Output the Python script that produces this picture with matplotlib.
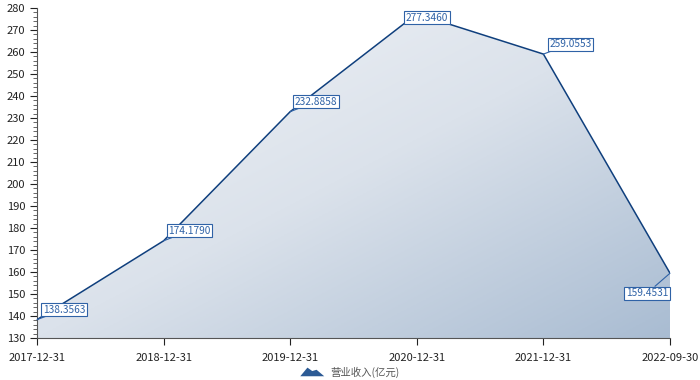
import matplotlib.pyplot as plt
import numpy as np
from matplotlib.colors import LinearSegmentedColormap
from matplotlib.legend_handler import HandlerBase
from matplotlib.patches import Polygon
from matplotlib.ticker import MultipleLocator

plt.rcParams["font.family"] = ["Noto Sans CJK SC", "DejaVu Sans"]

dates = ["2017-12-31", "2018-12-31", "2019-12-31", "2020-12-31", "2021-12-31", "2022-09-30"]
revenue = [138.3563, 174.1790, 232.8858, 277.3460, 259.0553, 159.4531]  # 亿元
series_name = "营业收入(亿元)"

# label box offsets in pixels (placement of the value boxes)
label_offsets = [(27, 10), (26, 10), (26, 10), (10, -4), (27, 10), (-23, -20)]

LINE = "#0f3f7d"
LABEL = "#2f62a6"
TEXT = "#222222"

fig = plt.figure(figsize=(7, 3.8), dpi=100)
ax = fig.add_axes([37 / 700, 42 / 380, 633 / 700, 330 / 380])

x = np.arange(len(dates))
ymin, ymax = 130, 280

# gradient area under the line
fill = ax.fill_between(x, revenue, ymin, color="none", lw=0)
gx, gy = np.meshgrid(np.linspace(0, 1, 200), np.linspace(0, 1, 200))
grad = (gx + gy) / 2
cmap = LinearSegmentedColormap.from_list("area", ["#f3f5f8", "#dbe2eb", "#a9bcd2"])
img = ax.imshow(grad, extent=[0, x[-1], ymin, ymax], origin="upper",
                cmap=cmap, aspect="auto", zorder=1)
img.set_clip_path(fill.get_paths()[0], transform=ax.transData)

ax.plot(x, revenue, color=LINE, lw=1.1, zorder=3)

for xi, v, off in zip(x, revenue, label_offsets):
    ax.annotate(f"{v:.4f}", xy=(xi, v), xytext=off, textcoords="offset pixels",
                ha="center", va="center", fontsize=7.3, color=LABEL, zorder=5,
                bbox=dict(boxstyle="square,pad=0.15", fc="white", ec=LABEL, lw=0.8),
                arrowprops=dict(arrowstyle="-", color=LABEL, lw=0.8,
                                shrinkA=0, shrinkB=0),
                annotation_clip=False)

ax.set_xlim(0, x[-1])
ax.set_ylim(ymin, ymax)
ax.set_xticks(x)
ax.set_xticklabels(dates)
ax.yaxis.set_major_locator(MultipleLocator(10))
ax.yaxis.set_minor_locator(MultipleLocator(2))
ax.tick_params(axis="both", labelsize=8, colors=TEXT, length=5, width=0.8)
ax.tick_params(axis="y", which="minor", length=3, width=0.7, color="#666666")
ax.tick_params(axis="x", pad=6)
for s in ["top", "right"]:
    ax.spines[s].set_visible(False)
for s in ["left", "bottom"]:
    ax.spines[s].set_color("#555555")
    ax.spines[s].set_linewidth(0.8)


class MountainHandler(HandlerBase):
    def create_artists(self, legend, orig_handle, xdescent, ydescent,
                       width, height, fontsize, trans):
        w, h = width, height
        pts = [(-xdescent, -ydescent), (-xdescent + 0.3 * w, -ydescent + h),
               (-xdescent + 0.5 * w, -ydescent + 0.6 * h),
               (-xdescent + 0.68 * w, -ydescent + 0.75 * h),
               (-xdescent + w, -ydescent)]
        p = Polygon(pts, closed=True, fc="#2c5a94", ec="none", transform=trans)
        return [p]


handle = Polygon([[0, 0]], fc=LINE)
fig.legend([handle], [series_name], handler_map={Polygon: MountainHandler()},
           loc="center", bbox_to_anchor=(0.5, 8 / 380), frameon=False,
           fontsize=7.5, labelcolor="#555555", handlelength=2.3,
           handleheight=0.9, handletextpad=0.6)

fig.savefig("out.png", dpi=100)
